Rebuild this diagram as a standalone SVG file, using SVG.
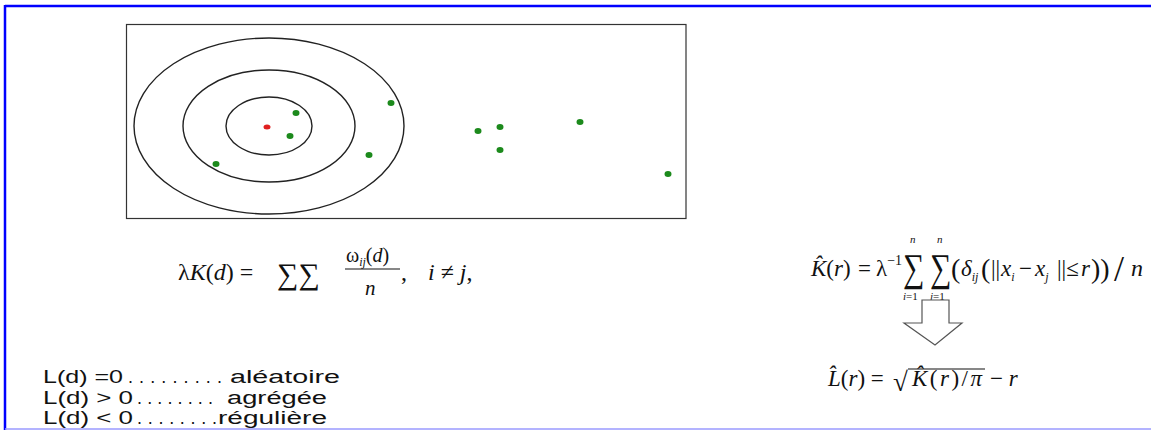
<svg xmlns="http://www.w3.org/2000/svg" width="1151" height="430" viewBox="0 0 1151 430">
<style>
.m{font-family:"Liberation Serif","Times New Roman",serif;fill:#111}
.i{font-style:italic}
.s{font-family:"Liberation Sans",Arial,sans-serif;font-size:18px;fill:#111}
.g{fill:#1c8a1c}
.c{fill:none;stroke:#222;stroke-width:1.4}
</style>
<rect width="1151" height="430" fill="#fff"/>
<g id="frame">
<line x1="5" y1="6" x2="1151" y2="6" stroke="#0000ff" stroke-width="2.5"/>
<line x1="5" y1="5" x2="5" y2="430" stroke="#0000ff" stroke-width="2.5"/>
<line x1="5" y1="429" x2="1151" y2="429" stroke="#9a9aff" stroke-width="1.5"/>
</g>
<g id="plot">
<rect x="126.5" y="24.5" width="559.5" height="194" fill="#fff" stroke="#333" stroke-width="1.2"/>
<ellipse class="c" cx="269" cy="126" rx="43" ry="29"/>
<ellipse class="c" cx="269" cy="126" rx="86" ry="56"/>
<ellipse class="c" cx="269" cy="126" rx="135" ry="88"/>
<ellipse cx="267" cy="127" rx="3.5" ry="2.5" fill="#e02020"/>
<ellipse class="g" cx="296" cy="113" rx="3.5" ry="3"/>
<ellipse class="g" cx="290" cy="136" rx="3.5" ry="3"/>
<ellipse class="g" cx="391" cy="103" rx="3.5" ry="3"/>
<ellipse class="g" cx="369" cy="155" rx="3.5" ry="3"/>
<ellipse class="g" cx="216" cy="164" rx="3.5" ry="3"/>
<ellipse class="g" cx="478" cy="131" rx="3.5" ry="3"/>
<ellipse class="g" cx="500" cy="127" rx="3.5" ry="3"/>
<ellipse class="g" cx="500" cy="150" rx="3.5" ry="3"/>
<ellipse class="g" cx="580" cy="122" rx="3.5" ry="3"/>
<ellipse class="g" cx="668" cy="174" rx="3.5" ry="3"/>
</g>
<g id="formula-left">
<text class="m" x="178" y="280" font-size="24">λ<tspan class="i">K</tspan>(<tspan class="i">d</tspan>) =</text>
<text class="m" x="277" y="284" font-size="30">∑∑</text>
<text class="m" x="346" y="262" font-size="20">ω<tspan font-size="12" dy="4" class="i">ij</tspan><tspan dy="-4">(</tspan><tspan class="i">d</tspan>)</text>
<line x1="345" y1="269" x2="400" y2="269" stroke="#111" stroke-width="1.1"/>
<text class="m i" x="365" y="295" font-size="21">n</text>
<text class="m" x="401" y="280" font-size="24">,</text>
<text class="m i" x="428" y="280" font-size="24">i <tspan font-style="normal">≠</tspan> j<tspan font-style="normal">,</tspan></text>
</g>
<g id="formula-right">
<text class="m" y="276" font-size="23"><tspan x="811" class="i">K&#x302;</tspan>(<tspan class="i">r</tspan>)<tspan x="858">=</tspan><tspan x="876">λ</tspan><tspan font-size="14" dy="-11">−1</tspan></text>
<text class="m" transform="translate(903,281) scale(1,1.3)" font-size="30">∑</text>
<text class="m" transform="translate(930,281) scale(1,1.3)" font-size="30">∑</text>
<text class="m i" x="910" y="243" font-size="11">n</text>
<text class="m i" x="937" y="243" font-size="11">n</text>
<text class="m i" x="903" y="300" font-size="11">i<tspan font-style="normal">=1</tspan></text>
<text class="m i" x="930" y="300" font-size="11">j<tspan font-style="normal">=1</tspan></text>
<text class="m" y="276" font-size="23"><tspan x="951" dy="2" font-size="28">(</tspan><tspan x="961" dy="-2" class="i">δ</tspan><tspan class="i" font-size="12" dy="5">ij</tspan><tspan x="981" dy="-3" font-size="28">(</tspan><tspan x="991" dy="-2">||</tspan><tspan x="1001" class="i">x</tspan><tspan class="i" font-size="12" dy="5">i</tspan><tspan x="1019" dy="-5">−</tspan><tspan x="1035" class="i">x</tspan><tspan class="i" font-size="12" dy="5">j</tspan><tspan x="1057" dy="-5">||≤</tspan><tspan x="1081" class="i">r</tspan><tspan x="1091" dy="2" font-size="28">))</tspan><tspan x="1114" dy="3" font-size="36">/</tspan><tspan x="1131" dy="-5" class="i" font-size="24">n</tspan></text>
</g>
<g id="arrow">
<polygon points="922,300 949,300 949,323 962,323 935,345 904,323 922,323" fill="#fff" stroke="#555" stroke-width="1.2"/>
</g>
<g id="formula-L">
<text class="m" x="828" y="386" font-size="23"><tspan class="i">L&#x302;</tspan>(<tspan class="i">r</tspan>) =</text>
<text class="m" x="893" y="391" font-size="27">√</text>
<line x1="908" y1="369" x2="985" y2="369" stroke="#111" stroke-width="1.2"/>
<text class="m" x="912" y="386" font-size="23" textLength="70"><tspan class="i">K&#x302;</tspan>(<tspan class="i">r</tspan>)/<tspan class="i">π</tspan></text>
<text class="m" x="990" y="386" font-size="23">− <tspan class="i">r</tspan></text>
</g>
<g id="legend">
<text class="s" y="383"><tspan x="43" textLength="80" lengthAdjust="spacingAndGlyphs">L(d) =0</tspan><tspan x="128" textLength="94" lengthAdjust="spacing">.........</tspan><tspan x="230" textLength="110" lengthAdjust="spacingAndGlyphs">aléatoire</tspan></text>
<text class="s" y="403.5"><tspan x="43" textLength="90" lengthAdjust="spacingAndGlyphs">L(d) &gt; 0</tspan><tspan x="137" textLength="76" lengthAdjust="spacing">........</tspan><tspan x="227" textLength="100" lengthAdjust="spacingAndGlyphs">agrégée</tspan></text>
<text class="s" y="424"><tspan x="43" textLength="90" lengthAdjust="spacingAndGlyphs">L(d) &lt; 0</tspan><tspan x="137" textLength="80" lengthAdjust="spacing">........</tspan><tspan x="218" textLength="109" lengthAdjust="spacingAndGlyphs">régulière</tspan></text>
</g>
</svg>
